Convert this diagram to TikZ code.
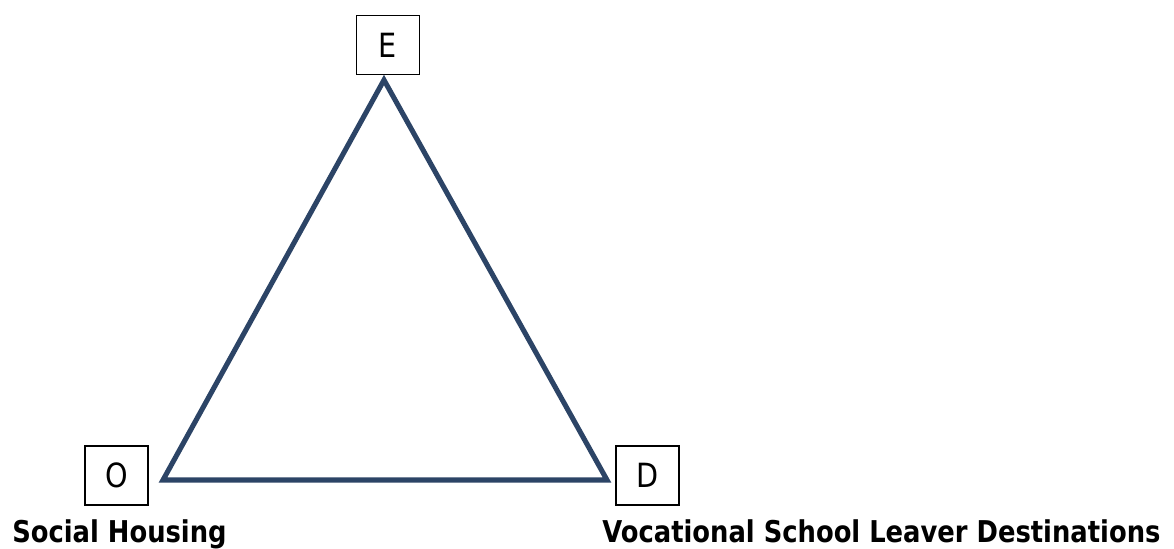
\documentclass[tikz,border=0pt]{standalone}
\usepackage{fontspec}
\setmainfont{DejaVu Sans}[FakeStretch=0.86]
\usepackage{xcolor}
\usepackage{tikz}
\definecolor{edgenavy}{RGB}{44, 68, 102}
\tikzset{
 cornerbox/.style={
 rectangle,
 draw=black,
 fill=white,
 line width=1.1pt,
 minimum width=47pt,
 minimum height=44pt,
 inner sep=0pt,
 font=\fontsize{25}{29}\selectfont
 },
 sidelabel/.style={
 anchor=base west,
 inner sep=0pt,
 font=\fontsize{22.5}{26}\selectfont\bfseries
 },
 triedge/.style={line width=3.8pt, draw=edgenavy, line join=miter}
}
\begin{document}
\begin{tikzpicture}[x=0.75pt, y=-0.75pt]
	\useasboundingbox (0,0) rectangle (1174,549);
	% corners of the triangle
	\coordinate (top) at (384,80);
	\coordinate (left) at (163,480);
	\coordinate (right) at (607,480);

	\draw[triedge] (top) -- (left) -- (right) -- cycle;

	\node[cornerbox] (boxE) at (388,45) {E};
	\node[cornerbox] (boxO) at (116.5,475.5) {O};
	\node[cornerbox] (boxD) at (647.5,475.5) {D};

	\node[sidelabel] (housing) at (12,542) {Social Housing};
	\node[sidelabel] (destinations) at (602,542) {Vocational School Leaver Destinations};
\end{tikzpicture}
\end{document}
